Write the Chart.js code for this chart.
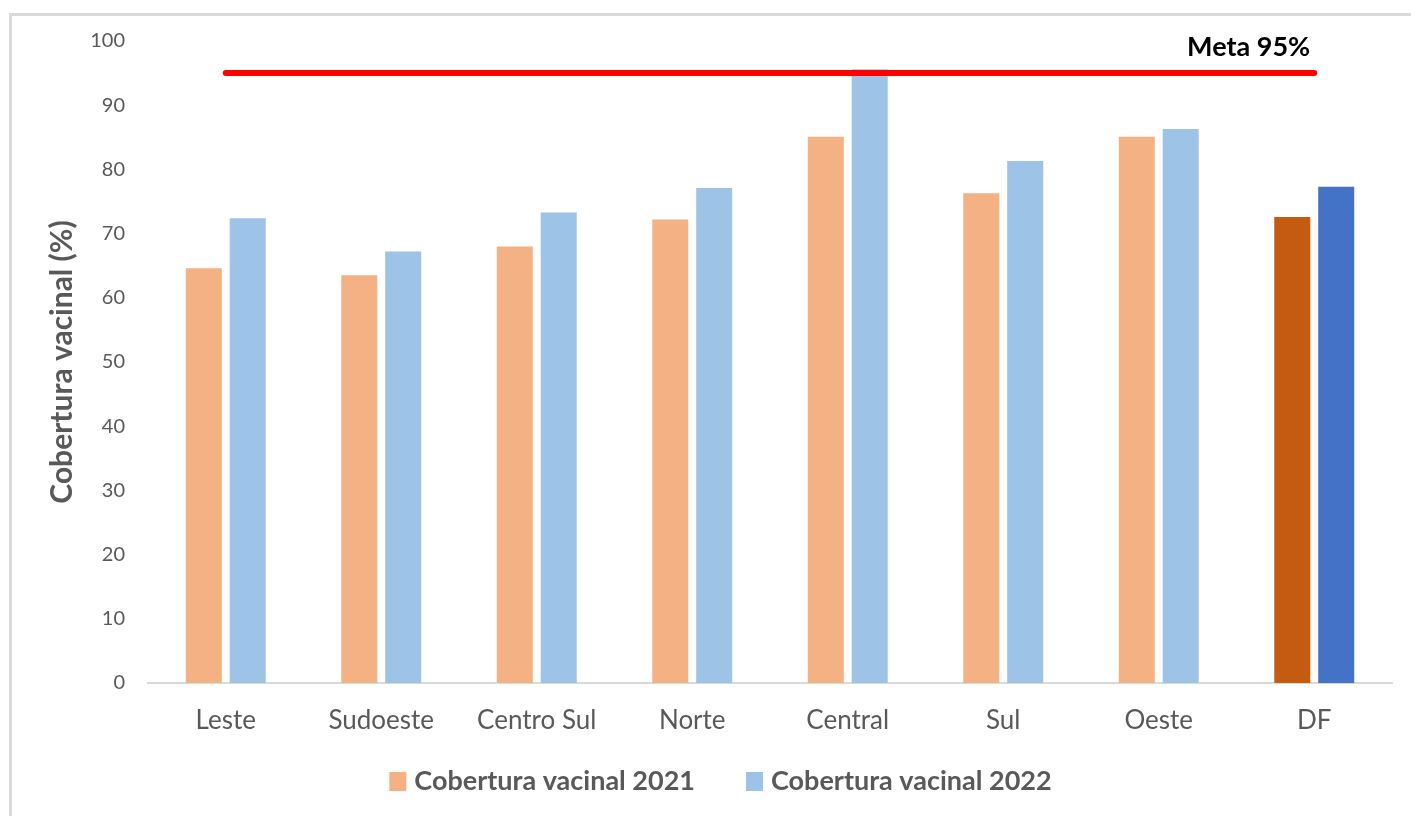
<!DOCTYPE html>
<html>
<head>
<meta charset="utf-8">
<script src="https://cdn.jsdelivr.net/npm/chart.js@4/dist/chart.umd.min.js"></script>
<style>
  html, body { margin: 0; padding: 0; background: #fff; }
  #wrap { position: relative; width: 1411px; height: 816px; overflow: hidden; }
  #frame { position: absolute; left: 9px; top: 13px; width: 1500px; height: 900px;
           border-left: 3px solid #d9d9d9; border-top: 3px solid #d9d9d9; box-sizing: border-box; }
  canvas { position: absolute; left: 0; top: 0; }
</style>
</head>
<body>
<div id="wrap">
  <div id="frame"></div>
  <canvas id="c" width="1411" height="816"></canvas>
</div>
<script>
// Regiões de saúde e cobertura vacinal (%)
const regioes = ['Leste', 'Sudoeste', 'Centro Sul', 'Norte', 'Central', 'Sul', 'Oeste', 'DF'];
const cobertura2021 = [64.6, 63.5, 68.0, 72.2, 85.1, 76.3, 85.1, 72.6];
const cobertura2022 = [72.4, 67.2, 73.3, 77.1, 95.6, 81.3, 86.3, 77.3];
const meta = 95;
const yTicks = [0, 10, 20, 30, 40, 50, 60, 70, 80, 90, 100];

const FONT = 'Lato, "Open Sans", sans-serif';
const cor2021 = regioes.map(r => r === 'DF' ? '#c55a11' : '#f4b183');
const cor2022 = regioes.map(r => r === 'DF' ? '#4472c4' : '#9dc3e6');

// Rótulo da meta acima da linha vermelha
const metaLabel = {
  id: 'metaLabel',
  afterDatasetsDraw(chart) {
    const { ctx, scales } = chart;
    const x = scales.x.getPixelForValue(regioes.length - 1) - 4;
    const y = scales.y.getPixelForValue(meta) - 17;
    ctx.save();
    ctx.font = 'bold 27px ' + FONT;
    ctx.fillStyle = '#000';
    ctx.textAlign = 'right';
    ctx.textBaseline = 'alphabetic';
    ctx.fillText('Meta ' + meta + '%', x, y);
    ctx.restore();
  }
};

// Legenda das séries de barras, centrada sob o gráfico
const barLegend = {
  id: 'barLegend',
  afterDraw(chart) {
    const { ctx } = chart;
    const items = chart.data.datasets.filter(ds => ds.type === 'bar')
      .map(ds => ({ text: ds.label, color: ds.legendColor }));
    const box = 17, boxH = 19, gap = 8, spacing = 51, baseline = 790;
    ctx.save();
    ctx.font = 'bold 27px ' + FONT;
    const widths = items.map(it => box + gap + ctx.measureText(it.text).width);
    const total = widths.reduce((a, b) => a + b, 0) + spacing * (items.length - 1);
    let x = chart.width / 2 + 15 - total / 2;
    items.forEach((it, i) => {
      ctx.fillStyle = it.color;
      ctx.fillRect(x, baseline - 18, box, boxH);
      ctx.fillStyle = '#595959';
      ctx.textAlign = 'left';
      ctx.textBaseline = 'alphabetic';
      ctx.fillText(it.text, x + box + gap, baseline);
      x += widths[i] + spacing;
    });
    ctx.restore();
  }
};

new Chart(document.getElementById('c'), {
  data: {
    labels: regioes,
    datasets: [
      {
        type: 'line',
        label: 'Meta',
        data: regioes.map(() => meta),
        borderColor: '#ff0000',
        borderWidth: 6,
        borderCapStyle: 'round',
        pointRadius: 0,
        order: 0
      },
      {
        type: 'bar',
        label: 'Cobertura vacinal 2021',
        data: cobertura2021,
        backgroundColor: cor2021,
        legendColor: '#f4b183',
        categoryPercentage: 0.565,
        barPercentage: 0.82,
        order: 1
      },
      {
        type: 'bar',
        label: 'Cobertura vacinal 2022',
        data: cobertura2022,
        backgroundColor: cor2022,
        legendColor: '#9dc3e6',
        categoryPercentage: 0.565,
        barPercentage: 0.82,
        order: 1
      }
    ]
  },
  options: {
    responsive: false,
    animation: false,
    layout: { padding: { top: 41, right: 19, left: 44, bottom: 816 - 683 - 64 } },
    plugins: {
      tooltip: { enabled: false },
      legend: { display: false }
    },
    scales: {
      x: {
        grid: { display: false, drawTicks: false },
        border: { color: '#d9d9d9', width: 2 },
        ticks: { color: '#595959', font: { family: FONT, size: 26 }, padding: 22 },
        afterFit(s) { s.height = 64; }
      },
      y: {
        min: 0,
        max: 100,
        afterBuildTicks(s) { s.ticks = yTicks.map(v => ({ value: v })); },
        grid: { display: false, drawTicks: false },
        border: { display: false },
        ticks: { color: '#595959', font: { family: FONT, size: 20 }, padding: 23 },
        title: {
          display: true,
          text: 'Cobertura vacinal (%)',
          color: '#595959',
          font: { family: FONT, size: 30, weight: 'bold' },
          padding: { top: 0, bottom: 0 }
        },
        afterFit(s) { s.width = 104; }
      }
    }
  },
  plugins: [metaLabel, barLegend]
});
</script>
</body>
</html>
